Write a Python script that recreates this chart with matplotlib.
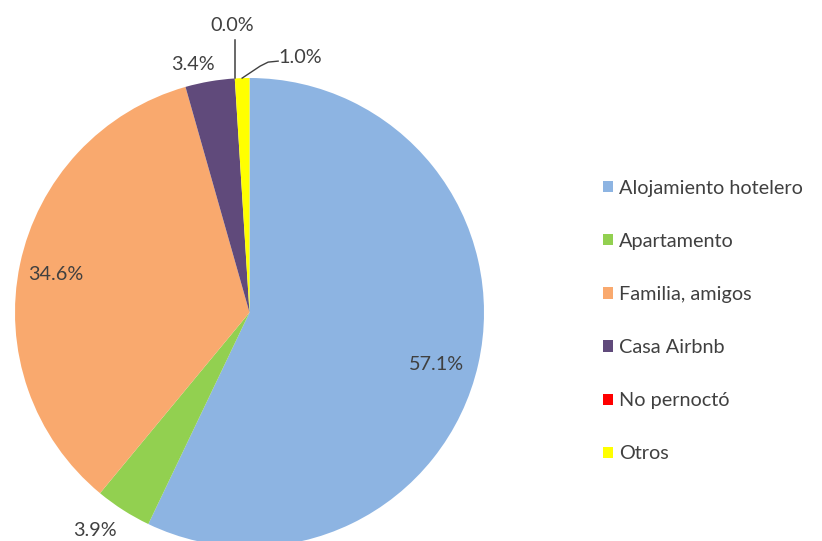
import numpy as np
import matplotlib
matplotlib.use("Agg")
import matplotlib.pyplot as plt
from matplotlib.patches import Patch

plt.rcParams["font.family"] = ["Lato", "DejaVu Sans"]

# ---- data ----
categories = ["Alojamiento hotelero", "Apartamento", "Familia, amigos",
              "Casa Airbnb", "No pernoctó", "Otros"]
values = [57.1, 3.9, 34.6, 3.4, 0.0, 1.0]
colors = ["#8DB4E2", "#92D050", "#F9A96E", "#604A7B", "#FF0000", "#FFFF00"]

# label placement (radius factor, angle nudge in deg) -- layout only
label_r = [0.826, 1.141, 0.84, 1.083, 1.228, 1.107]
label_nudge = [-2.9, -2.7, 0.9, 3.2, -0.1, -13.0]

W, H = 822, 541
cx, cy, R = 249.5, H - 312.5, 234.5
text_col = "#404040"
fs = 14.3

fig = plt.figure(figsize=(W / 100, H / 100), dpi=100)
ax = fig.add_axes([0, 0, 1, 1])

wedges, _ = ax.pie(values, colors=colors, startangle=90, counterclock=False,
                   center=(cx, cy), radius=R, frame=True,
                   wedgeprops=dict(linewidth=0))
ax.set_xlim(0, W)
ax.set_ylim(0, H)
ax.set_aspect("equal")
ax.axis("off")

total = sum(values)
cum = np.cumsum([0] + values[:-1])
for i, v in enumerate(values):
    mid = 90 - 360 * (cum[i] + v / 2) / total
    a = np.deg2rad(mid + label_nudge[i])
    tx = cx + label_r[i] * R * np.cos(a)
    ty = cy + label_r[i] * R * np.sin(a)
    ax.text(tx, ty, f"{v:.1f}%", ha="center", va="center",
            fontsize=fs, color=text_col)

# leader lines for the two tiny slices at the top
for i in (4, 5):
    mid = np.deg2rad(90 - 360 * (cum[i] + values[i] / 2) / total)
    ex, ey = cx + R * np.cos(mid), cy + R * np.sin(mid)
    if i == 4:
        ax.plot([ex, ex], [ey, H - 40], color=text_col, lw=1.1)
    else:
        ax.plot([ex, ex + 18, ex + 26, ex + 36], [ey, ey + 12, ey + 16, ey + 17],
                color=text_col, lw=1.0)

handles = [Patch(facecolor=c, edgecolor="none") for c in colors]
ax.legend(handles, categories, loc="center left",
          bbox_to_anchor=(603 / W, 1 - 321 / H), bbox_transform=fig.transFigure,
          frameon=False, fontsize=fs, labelcolor=text_col,
          handlelength=0.5, handleheight=0.5, handletextpad=0.3,
          labelspacing=1.82, borderpad=0, borderaxespad=0)

fig.savefig("out.png", dpi=100)
